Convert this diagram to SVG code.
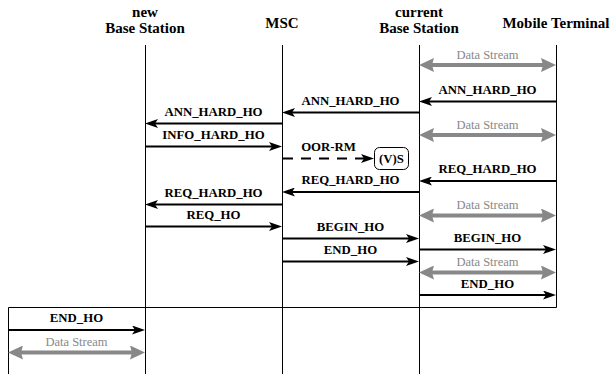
<svg xmlns="http://www.w3.org/2000/svg" width="610" height="374" viewBox="0 0 610 374">
<defs>
<style>
text{font-family:'Liberation Serif','DejaVu Serif',serif}
.hdr{font-weight:bold;font-size:15px;fill:#000;text-anchor:middle}
.lbl{font-weight:bold;font-size:12.8px;fill:#000;text-anchor:middle}
.ds{font-size:12.5px;fill:#888;text-anchor:middle}
.life{stroke:#000;stroke-width:1;fill:none}
.msg{stroke:#000;stroke-width:2;fill:none;marker-end:url(#ah)}
.dash{stroke-dasharray:10 8}
.data{stroke:#888;stroke-width:4;fill:none;marker-start:url(#gh);marker-end:url(#gh)}
</style>
<marker id="ah" markerUnits="userSpaceOnUse" markerWidth="13" markerHeight="9" refX="7" refY="4.5" orient="auto">
<path d="M0,0 L13,4.5 L0,9 L3,4.5 z" fill="#000"/>
</marker>
<marker id="gh" markerUnits="userSpaceOnUse" markerWidth="15" markerHeight="14" refX="5" refY="7" orient="auto-start-reverse">
<path d="M0,0 L15,7 L0,14 L2,7 z" fill="#888"/>
</marker>
</defs>
<rect width="610" height="374" fill="#fff"/>

<g id="node-new-bs">
<text class="hdr" x="145" y="17">new</text>
<text class="hdr" x="145" y="33">Base Station</text>
<line class="life" x1="145.5" y1="45" x2="145.5" y2="374"/>
</g>
<g id="node-msc">
<text class="hdr" x="282" y="27.5">MSC</text>
<line class="life" x1="282.5" y1="45" x2="282.5" y2="374"/>
</g>
<g id="node-current-bs">
<text class="hdr" x="419" y="17">current</text>
<text class="hdr" x="419" y="33">Base Station</text>
<line class="life" x1="419.5" y1="45" x2="419.5" y2="374"/>
</g>
<g id="node-mt">
<text class="hdr" x="556" y="27.5">Mobile Terminal</text>
<path class="life" d="M556.5,45 V307.5 H8.5 V374"/>
</g>
<g id="node-vs">
<rect x="374.5" y="147.5" width="34" height="22" rx="5" fill="#fff" stroke="#000" stroke-width="1"/>
<text class="lbl" x="391.5" y="163">(V)S</text>
</g>

<g id="connectors">
<line class="data" x1="429" y1="65" x2="546" y2="65"/>
<text class="ds" x="487.5" y="59">Data Stream</text>

<line class="msg" x1="556" y1="101.5" x2="425" y2="101.5"/>
<text class="lbl" x="487.5" y="93.5">ANN_HARD_HO</text>

<line class="msg" x1="419" y1="112.5" x2="288" y2="112.5"/>
<text class="lbl" x="350.5" y="104.5">ANN_HARD_HO</text>

<line class="msg" x1="282" y1="123.5" x2="151" y2="123.5"/>
<text class="lbl" x="213.5" y="116">ANN_HARD_HO</text>

<line class="data" x1="429" y1="135" x2="546" y2="135"/>
<text class="ds" x="487.5" y="129">Data Stream</text>

<line class="msg" x1="145" y1="146.5" x2="276" y2="146.5"/>
<text class="lbl" x="213.5" y="139">INFO_HARD_HO</text>

<line class="msg dash" x1="283" y1="158.5" x2="368" y2="158.5"/>
<text class="lbl" x="328.5" y="151">OOR-RM</text>

<line class="msg" x1="556" y1="181" x2="425" y2="181"/>
<text class="lbl" x="487.5" y="173">REQ_HARD_HO</text>

<line class="msg" x1="419" y1="192" x2="288" y2="192"/>
<text class="lbl" x="350.5" y="184">REQ_HARD_HO</text>

<line class="msg" x1="282" y1="204.5" x2="151" y2="204.5"/>
<text class="lbl" x="213.5" y="196.5">REQ_HARD_HO</text>

<line class="data" x1="429" y1="215.5" x2="546" y2="215.5"/>
<text class="ds" x="487.5" y="209">Data Stream</text>

<line class="msg" x1="145" y1="226.5" x2="276" y2="226.5"/>
<text class="lbl" x="213.5" y="219">REQ_HO</text>

<line class="msg" x1="282" y1="238.5" x2="413" y2="238.5"/>
<text class="lbl" x="350.5" y="230.5">BEGIN_HO</text>

<line class="msg" x1="419" y1="249.5" x2="550" y2="249.5"/>
<text class="lbl" x="487.5" y="241.5">BEGIN_HO</text>

<line class="msg" x1="282" y1="261.5" x2="413" y2="261.5"/>
<text class="lbl" x="350.5" y="253.5">END_HO</text>

<line class="data" x1="429" y1="272.5" x2="546" y2="272.5"/>
<text class="ds" x="487.5" y="266">Data Stream</text>

<line class="msg" x1="419" y1="295" x2="550" y2="295"/>
<text class="lbl" x="487.5" y="287.5">END_HO</text>

<line class="msg" x1="8" y1="330" x2="139" y2="330"/>
<text class="lbl" x="76.5" y="321.5">END_HO</text>

<line class="data" x1="18" y1="352.5" x2="135" y2="352.5"/>
<text class="ds" x="76.5" y="346">Data Stream</text>
</g>
</svg>
